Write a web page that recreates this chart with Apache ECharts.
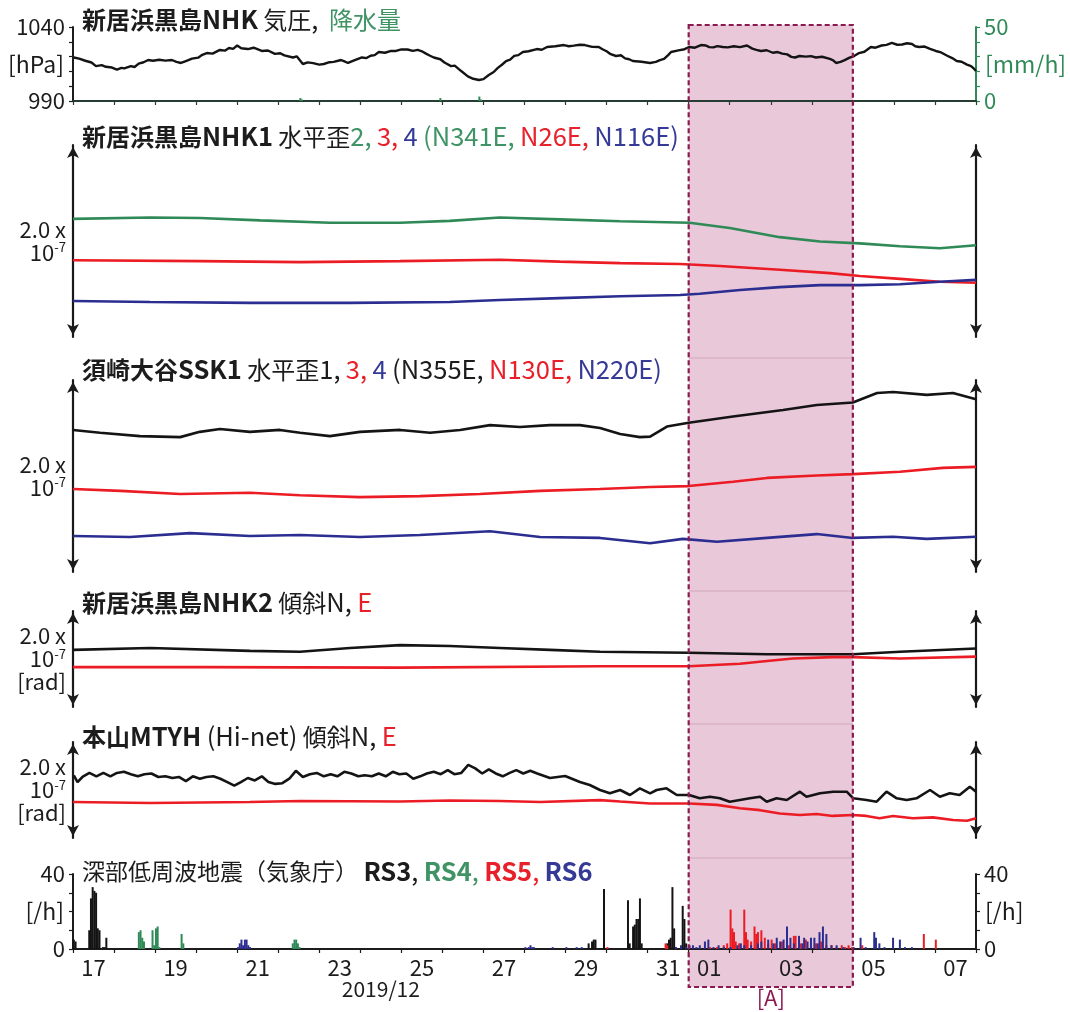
<!DOCTYPE html>
<html>
<head>
<meta charset="utf-8">
<script src="https://cdn.jsdelivr.net/npm/echarts@6/dist/echarts.min.js"></script>
<style>
  html, body { margin: 0; padding: 0; background: #fff; }
  #chart { width: 1070px; height: 1012px; }
</style>
</head>
<body>
<div id="chart"></div>
<script>
// ---- time axis: days counted from 2019-12-17 00:00 (0 .. 22) ----
const dayLabels = ['17','','19','','21','','23','','25','','27','','29','','31','01','','03','','05','','07'];
const monthLabel = '2019/12';
const eventSpan = [15, 19];          // period [A]: 2020-01-01 .. 2020-01-05
const eventLabel = '[A]';

// ---- 新居浜黒島NHK 気圧 [hPa] ----
const pressure = [[0.02,1019.4],[0.15,1018.6],[0.3,1017.2],[0.45,1016.0],[0.56,1013.6],[0.7,1014.2],[0.8,1013.1],[0.95,1012.6],[1.07,1011.2],[1.18,1012.4],[1.25,1012.0],[1.41,1013.6],[1.5,1013.0],[1.6,1015.3],[1.72,1016.2],[1.83,1017.7],[1.95,1017.2],[2.1,1017.9],[2.25,1017.3],[2.41,1017.7],[2.52,1016.4],[2.63,1015.7],[2.75,1017.0],[2.9,1018.6],[3.05,1019.3],[3.15,1021.2],[3.26,1022.4],[3.4,1022.0],[3.58,1024.5],[3.7,1024.0],[3.8,1025.8],[3.9,1025.2],[4.0,1027.5],[4.1,1025.6],[4.26,1025.1],[4.4,1026.0],[4.6,1023.8],[4.75,1024.1],[4.92,1021.8],[5.05,1022.3],[5.15,1020.8],[5.36,1019.4],[5.45,1020.2],[5.6,1015.0],[5.72,1016.1],[5.85,1015.6],[6.0,1014.6],[6.11,1015.0],[6.25,1016.2],[6.35,1016.4],[6.53,1017.7],[6.6,1017.0],[6.7,1015.7],[6.85,1017.4],[7.04,1019.4],[7.15,1019.0],[7.25,1020.6],[7.35,1021.0],[7.45,1023.1],[7.6,1022.6],[7.75,1023.9],[7.87,1023.8],[8.0,1024.9],[8.15,1024.8],[8.28,1023.9],[8.4,1024.5],[8.5,1023.6],[8.6,1022.0],[8.7,1020.6],[8.79,1019.4],[8.95,1018.2],[9.05,1016.0],[9.21,1013.6],[9.3,1013.9],[9.45,1010.4],[9.62,1006.6],[9.75,1005.0],[9.89,1004.2],[10.0,1004.8],[10.13,1007.6],[10.25,1009.6],[10.35,1012.4],[10.45,1014.5],[10.55,1017.0],[10.65,1018.0],[10.75,1020.5],[10.85,1021.0],[10.96,1023.1],[11.1,1023.6],[11.3,1025.1],[11.42,1024.6],[11.55,1026.5],[11.75,1027.0],[11.96,1027.8],[12.08,1027.0],[12.2,1027.4],[12.35,1028.0],[12.47,1027.8],[12.65,1026.6],[12.81,1026.5],[12.9,1025.0],[13.0,1023.6],[13.1,1021.6],[13.23,1020.4],[13.35,1020.9],[13.45,1018.8],[13.55,1018.2],[13.64,1017.0],[13.85,1016.5],[14.06,1015.7],[14.2,1016.4],[14.3,1017.6],[14.4,1018.4],[14.5,1021.0],[14.57,1023.1],[14.75,1024.2],[14.9,1025.0],[15.01,1026.5],[15.15,1026.0],[15.3,1027.8],[15.42,1027.5],[15.5,1026.4],[15.6,1026.2],[15.7,1027.1],[15.83,1026.5],[15.95,1026.2],[16.1,1027.0],[16.25,1026.4],[16.42,1027.5],[16.55,1025.4],[16.65,1024.6],[16.76,1023.8],[16.9,1024.3],[17.05,1022.6],[17.17,1023.1],[17.28,1022.0],[17.4,1021.5],[17.5,1019.8],[17.59,1019.4],[17.7,1020.4],[17.85,1020.0],[17.98,1020.3],[18.1,1019.4],[18.25,1019.9],[18.44,1018.4],[18.52,1017.5],[18.59,1015.7],[18.7,1016.4],[18.8,1017.6],[18.92,1019.3],[19.03,1020.4],[19.15,1022.4],[19.28,1023.3],[19.44,1026.5],[19.55,1026.0],[19.7,1027.5],[19.82,1027.9],[19.95,1029.2],[20.08,1028.0],[20.2,1028.2],[20.32,1029.0],[20.44,1028.5],[20.52,1027.0],[20.61,1026.5],[20.75,1026.8],[20.88,1025.2],[21.02,1023.8],[21.15,1022.8],[21.3,1020.6],[21.42,1019.0],[21.53,1017.0],[21.65,1016.5],[21.78,1014.6],[21.88,1013.6],[21.95,1011.8],[22.0,1010.3]];
// ---- 降水量 [mm/h] ----
const rainfall = [[5.54,2],[5.58,1],[8.95,2],[9.9,3],[9.94,1]];

// ---- 新居浜黒島NHK1 水平歪 (units of 1e-7, relative) ----
const nhk1Ch2 = [[0,2.46],[1.88,2.49],[3.09,2.48],[4.56,2.43],[6.26,2.38],[7.97,2.38],[9.18,2.42],[10.4,2.49],[11.86,2.45],[13.33,2.41],[15.02,2.38],[16.0,2.27],[17.22,2.08],[18.2,1.99],[19.17,1.95],[20.15,1.89],[21.12,1.85],[22.0,1.91]];
const nhk1Ch3 = [[0,1.60],[3.09,1.58],[5.53,1.56],[7.97,1.58],[10.4,1.61],[11.86,1.57],[13.33,1.54],[14.79,1.52],[15.76,1.48],[17.22,1.40],[18.44,1.33],[19.17,1.27],[20.15,1.21],[21.12,1.15],[22.0,1.13]];
const nhk1Ch4 = [[0,0.75],[1.88,0.73],[4.31,0.71],[6.75,0.71],[9.18,0.73],[10.4,0.77],[11.86,0.81],[13.33,0.85],[14.79,0.875],[15.27,0.90],[16.25,0.98],[17.22,1.04],[18.2,1.08],[19.17,1.08],[20.15,1.10],[21.12,1.15],[22.0,1.19]];

// ---- 須崎大谷SSK1 水平歪 (units of 1e-7, relative) ----
const ssk1Ch1 = [[0,2.96],[0.66,2.90],[1.63,2.83],[2.61,2.81],[3.09,2.92],[3.58,2.98],[4.31,2.92],[5.04,2.96],[5.53,2.90],[6.26,2.83],[6.99,2.92],[7.97,2.96],[8.7,2.90],[9.43,2.96],[10.16,3.06],[10.89,3.02],[11.62,3.06],[12.35,3.06],[12.84,3.0],[13.33,2.875],[13.81,2.81],[14.06,2.82],[14.47,3.03],[15.0,3.11],[16.08,3.24],[17.3,3.375],[18.12,3.48],[19.0,3.53],[19.59,3.73],[19.98,3.75],[20.8,3.69],[21.44,3.73],[22.0,3.60]];
const ssk1Ch3 = [[0,1.73],[1.15,1.69],[2.61,1.625],[4.31,1.65],[5.53,1.60],[6.99,1.56],[8.45,1.58],[9.91,1.625],[11.38,1.69],[12.84,1.73],[14.06,1.77],[15.0,1.79],[16.08,1.88],[16.91,1.96],[18.12,2.01],[19.0,2.04],[20.15,2.09],[21.19,2.17],[22.0,2.19]];
const ssk1Ch4 = [[0,0.75],[1.39,0.73],[2.85,0.81],[4.31,0.75],[5.53,0.77],[6.99,0.73],[8.45,0.77],[10.16,0.85],[11.38,0.73],[12.84,0.71],[14.06,0.60],[14.86,0.69],[15.69,0.63],[16.91,0.71],[18.12,0.79],[19.0,0.71],[19.98,0.735],[20.8,0.69],[22.0,0.735]];

// ---- 新居浜黒島NHK2 傾斜 (units of 1e-7 rad, relative) ----
const nhk2N = [[0,1.19],[1.88,1.23],[4.31,1.17],[5.53,1.15],[6.75,1.23],[7.97,1.29],[9.18,1.27],[10.4,1.23],[11.62,1.19],[12.84,1.15],[15.0,1.13],[16.91,1.10],[19.0,1.10],[20.15,1.15],[22.0,1.22]];
const nhk2E = [[0,0.83],[3.09,0.83],[7.97,0.82],[12.84,0.85],[15.0,0.85],[16.25,0.90],[16.91,0.96],[17.54,1.01],[18.51,1.04],[19.0,1.04],[20.15,1.01],[22.0,1.05]];

// ---- 本山MTYH (Hi-net) 傾斜 (units of 1e-7 rad, relative) ----
const mtyhN = [[0.02,1.306],[0.11,1.165],[0.23,1.271],[0.40,1.356],[0.57,1.285],[0.74,1.356],[0.91,1.285],[1.07,1.356],[1.24,1.379],[1.41,1.329],[1.58,1.285],[1.74,1.329],[1.91,1.344],[2.08,1.271],[2.25,1.285],[2.42,1.25],[2.58,1.271],[2.75,1.185],[2.92,1.285],[3.09,1.235],[3.25,1.271],[3.42,1.285],[3.59,1.235],[3.76,1.165],[3.93,1.092],[4.09,1.165],[4.26,1.25],[4.43,1.2],[4.60,1.285],[4.76,1.165],[4.93,1.127],[5.10,1.142],[5.27,1.235],[5.43,1.4],[5.60,1.271],[5.77,1.329],[5.94,1.356],[6.11,1.285],[6.28,1.329],[6.44,1.285],[6.61,1.379],[6.78,1.344],[6.95,1.285],[7.11,1.306],[7.28,1.285],[7.45,1.344],[7.62,1.285],[7.79,1.379],[7.95,1.329],[8.12,1.344],[8.29,1.235],[8.46,1.285],[8.62,1.344],[8.79,1.379],[8.96,1.329],[9.13,1.415],[9.29,1.329],[9.46,1.356],[9.63,1.523],[9.80,1.45],[9.97,1.344],[10.13,1.429],[10.30,1.344],[10.47,1.285],[10.64,1.356],[10.80,1.415],[10.97,1.344],[11.14,1.4],[11.31,1.344],[11.62,1.25],[11.99,1.29],[12.35,1.167],[12.59,1.104],[12.84,1.0],[13.08,0.931],[13.33,1.0],[13.57,0.896],[13.81,1.035],[14.06,0.931],[14.22,1.0],[14.46,1.035],[14.71,0.896],[15.01,0.896],[15.27,0.827],[15.52,0.86],[15.76,0.827],[16.0,0.756],[16.25,0.792],[16.49,0.827],[16.74,0.86],[16.9,0.756],[17.14,0.827],[17.39,0.792],[17.71,0.965],[17.87,0.86],[18.2,0.931],[18.52,0.965],[18.85,0.965],[19.01,0.827],[19.33,0.792],[19.58,0.756],[19.82,0.965],[20.07,0.827],[20.31,0.792],[20.55,0.827],[20.88,1.0],[21.12,0.86],[21.36,0.931],[21.6,0.896],[21.85,1.069],[22.0,0.965]];
const mtyhE = [[0,0.75],[1.88,0.73],[4.31,0.75],[5.53,0.77],[7.97,0.76],[9.18,0.78],[10.4,0.77],[11.38,0.75],[12.84,0.79],[13.33,0.76],[14.06,0.72],[15.01,0.72],[15.69,0.69],[16.25,0.62],[16.74,0.58],[17.22,0.51],[17.71,0.48],[18.12,0.50],[18.51,0.46],[19.0,0.48],[19.33,0.46],[19.65,0.41],[19.98,0.46],[20.46,0.41],[20.95,0.43],[21.44,0.375],[21.78,0.36],[22.0,0.41]];

// ---- 深部低周波地震 (気象庁): [hour since 12-17 00:00, events per hour] ----
const lfeRS3 = [[0,5],[1,4],[9,10],[10,27],[11,33],[12,31],[13,30],[14,11],[15,10],[17,1],[18,1],[19,6],[301,3],[303,4],[304,5],[305,5],[310,32],[324,26],[325,3],[327,12],[328,13],[329,16],[330,16],[331,27],[332,3],[347,3],[348,5],[349,6],[350,33],[351,11],[352,1],[356,23],[357,16],[358,3]];
const lfeRS4 = [[38,9],[39,10],[40,6],[41,4],[46,10],[47,2],[48,11],[49,12],[50,1],[63,8],[64,3],[128,3],[129,5],[130,5],[131,3],[132,1]];
const lfeRS5 = [[312,1],[346,3],[347,2],[362,1],[372,1],[376,1],[380,2],[382,3],[384,21],[385,11],[386,9],[387,4],[389,3],[392,21],[393,9],[394,5],[396,4],[398,12],[399,8],[400,9],[402,10],[404,6],[406,3],[408,5],[410,3],[414,4],[418,2],[421,7],[422,7],[425,3],[428,5],[431,2],[434,3],[437,4],[440,2],[443,2],[446,1],[449,2],[451,1],[453,2],[455,1],[461,2],[497,8],[504,5]];
const lfeRS6 = [[96,1],[97,3],[98,5],[99,2],[100,5],[101,5],[102,2],[103,1],[264,1],[266,1],[267,2],[268,1],[269,1],[280,1],[288,1],[294,1],[297,1],[352,1],[355,2],[358,1],[360,2],[362,2],[364,1],[366,2],[369,4],[371,5],[374,1],[377,2],[380,1],[384,1],[388,2],[390,3],[392,2],[396,2],[400,3],[402,4],[406,5],[409,3],[411,6],[413,4],[415,5],[417,12],[419,6],[421,3],[424,7],[426,3],[427,6],[429,4],[431,6],[433,6],[435,3],[436,9],[438,12],[440,8],[443,2],[446,2],[450,1],[456,1],[460,6],[463,1],[468,9],[469,6],[471,3],[474,1],[479,6],[483,5],[486,1],[490,1]];

// ---------------------------------------------------------------
const FONT = '"Noto Sans CJK JP", "Noto Sans", sans-serif';
const FS_J = 24;        // kanji in panel titles
const FS_L = 25.5;      // latin in panel titles
const AFS = 22;         // axis labels
const INK = '#1c1c1c';
const GREEN = '#2f8a57', RED = '#ec1c24', BLUE = '#2b2e90';
const GREEN_T = '#3f9364', RED_T = '#e8202a', BLUE_T = '#353a97';
const SHADE = '#e8c8d9', SHADE_EDGE = '#8c1a52';

const toDays = arr => arr.map(([h, v]) => [h / 24 + 1 / 48, v]);

// panel layout (pixels)
const LEFT = 73, RIGHT = 94;
const panels = [
  { top: 27,  height: 74 },
  { top: 145, height: 192 },
  { top: 380, height: 192 },
  { top: 611, height: 96 },
  { top: 742, height: 96 },
  { top: 874, height: 75 }
];
const titleCenters = [20, 137, 370, 603, 737, 872];

function tok(color, bold, size) {
  return { fontFamily: FONT, fontSize: size, color: color, fontWeight: bold ? 'bold' : 'normal' };
}
const rich = {
  b:  tok(INK, true, FS_J),   n:  tok(INK, false, FS_J),   g:  tok(GREEN_T, false, FS_J),
  m:  tok(INK, false, 23),
  bl: tok(INK, true, FS_L),   nl: tok(INK, false, FS_L),
  gl: tok(GREEN_T, false, FS_L), rl: tok(RED_T, false, FS_L), ul: tok(BLUE_T, false, FS_L),
  kb: tok(INK, true, FS_L), gb: tok(GREEN_T, true, FS_L), rb: tok(RED_T, true, FS_L), ub: tok(BLUE_T, true, FS_L)
};
const titleTexts = [
  '{b|新居浜黒島}{bl|NHK} {n|気圧}{nl|,}  {g|降水量}',
  '{b|新居浜黒島}{bl|NHK1} {n|水平歪}{gl|2,} {rl|3,} {ul|4} {gl|(N341E,} {rl|N26E,} {ul|N116E)}',
  '{b|須崎大谷}{bl|SSK1} {n|水平歪}{nl|1,} {rl|3,} {ul|4} {nl|(N355E,} {rl|N130E,} {ul|N220E)}',
  '{b|新居浜黒島}{bl|NHK2} {n|傾斜}{nl|N,} {rl|E}',
  '{b|本山}{bl|MTYH} {nl|(Hi-net)} {n|傾斜}{nl|N,} {rl|E}',
  '{m|深部低周波地震（気象庁）} {kb|RS3}{nl|,} {gb|RS4}{gl|,} {rb|RS5}{rl|,} {ub|RS6}'
];

const scaleRich = {
  a: { fontFamily: FONT, fontSize: 22, color: INK, lineHeight: 23, align: 'right' },
  s: { fontFamily: FONT, fontSize: 13, color: INK, lineHeight: 23, verticalAlign: 'top', align: 'right' }
};
const strainName = '{a|2.0 x}\n{a|10}{s|-7}';
const tiltName = '{a|2.0 x}\n{a|10}{s|-7}\n{a|[rad]}';

function arrowAxis(grid, pos, max, name) {
  const ax = {
    type: 'value', gridIndex: grid, position: pos, min: 0, max: max,
    axisLine: { show: true, symbol: ['arrow', 'arrow'], symbolSize: [9, 11], symbolOffset: [2, -2],
                lineStyle: { color: '#1a1a1a', width: 2.2 } },
    axisTick: { show: false }, axisLabel: { show: false }, splitLine: { show: false }
  };
  if (name) {
    ax.name = name; ax.nameLocation = 'middle'; ax.nameRotate = 0; ax.nameGap = 7;
    ax.nameMoveOverlap = false;
    ax.nameTextStyle = { rich: scaleRich, align: 'right', verticalAlign: 'middle' };
  }
  return ax;
}

function scaleAxis(grid, pos, min, max, color, name) {
  return {
    type: 'value', gridIndex: grid, position: pos, min: min, max: max, interval: 10,
    axisLine: { show: true, lineStyle: { color: color, width: 2 } },
    axisTick: { show: true, length: 4, lineStyle: { color: color, width: 1.2 } },
    axisLabel: { show: true, margin: 8, fontFamily: FONT, fontSize: AFS, color: color,
                 formatter: v => (v === max || v === min) ? String(v) : '' },
    splitLine: { show: false },
    name: name, nameLocation: 'middle', nameRotate: 0, nameGap: 9, nameMoveOverlap: false,
    nameTextStyle: { fontFamily: FONT, fontSize: 23, color: color,
                     align: pos === 'left' ? 'right' : 'left', verticalAlign: 'middle' }
  };
}

const xAxes = panels.map((p, i) => ({
  type: 'value', gridIndex: i, min: 0, max: 22, interval: 1,
  show: i === 0,
  axisLine: { show: i === 0, onZero: false, lineStyle: { color: '#263d33', width: 2 } },
  axisTick: { show: i === 0, length: 4, lineStyle: { color: '#263d33', width: 1.2 } },
  axisLabel: { show: false }, splitLine: { show: false }
}));
xAxes.push({
  type: 'category', gridIndex: 5, position: 'bottom', data: dayLabels, boundaryGap: true,
  axisLine: { show: true, onZero: false, lineStyle: { color: INK, width: 2 } },
  axisTick: { show: true, interval: 0, length: 4, lineStyle: { color: INK, width: 1.2 } },
  axisLabel: { interval: 0, margin: 8, fontFamily: FONT, fontSize: AFS, color: INK },
  splitLine: { show: false }
});

const yAxes = [
  scaleAxis(0, 'left', 990, 1040, INK, '[hPa]'),
  scaleAxis(0, 'right', 0, 50, GREEN, '[mm/h]'),
  arrowAxis(1, 'left', 4, strainName), arrowAxis(1, 'right', 4),
  arrowAxis(2, 'left', 4, strainName), arrowAxis(2, 'right', 4),
  arrowAxis(3, 'left', 2, tiltName),   arrowAxis(3, 'right', 2),
  arrowAxis(4, 'left', 2, tiltName),   arrowAxis(4, 'right', 2),
  scaleAxis(5, 'left', 0, 40, INK, '[/h]'),
  scaleAxis(5, 'right', 0, 40, INK, '[/h]')
];

function line(data, x, y, color, width) {
  return { type: 'line', data: data, xAxisIndex: x, yAxisIndex: y, showSymbol: false, silent: true,
           smooth: false, lineStyle: { color: color, width: width || 2.6 }, z: 3 };
}
function bars(data, x, y, color) {
  return { type: 'bar', data: data, xAxisIndex: x, yAxisIndex: y, barWidth: 2, barGap: '-100%',
           silent: true, itemStyle: { color: color }, z: 3 };
}

const option = {
  animation: false,
  backgroundColor: '#ffffff',
  textStyle: { fontFamily: FONT },
  title: titleTexts.map((t, i) => ({
    text: t, left: 82, top: titleCenters[i] - 13, padding: 0,
    textStyle: { rich: rich, fontFamily: FONT, fontSize: FS_J, fontWeight: 'normal', color: INK }
  })),
  grid: panels.map(p => ({ left: LEFT, right: RIGHT, top: p.top, height: p.height,
                           containLabel: false, outerBoundsMode: 'none' })),
  xAxis: xAxes,
  yAxis: yAxes,
  series: [
    bars(rainfall, 0, 1, GREEN),
    line(pressure, 0, 0, '#141414', 2.4),
    line(nhk1Ch2, 1, 2, GREEN), line(nhk1Ch3, 1, 2, RED), line(nhk1Ch4, 1, 2, BLUE),
    line(ssk1Ch1, 2, 4, '#141414'), line(ssk1Ch3, 2, 4, RED), line(ssk1Ch4, 2, 4, BLUE),
    line(nhk2N, 3, 6, '#141414'), line(nhk2E, 3, 6, RED),
    line(mtyhN, 4, 8, '#141414'), line(mtyhE, 4, 8, RED),
    bars(toDays(lfeRS3), 5, 10, '#141414'),
    bars(toDays(lfeRS4), 5, 10, GREEN),
    bars(toDays(lfeRS5), 5, 10, RED),
    bars(toDays(lfeRS6), 5, 10, BLUE)
  ]
};

const chart = echarts.init(document.getElementById('chart'), null, { renderer: 'canvas' });
chart.setOption(option);

// period [A] band spanning all panels, plus the month caption
const xa = chart.convertToPixel({ xAxisIndex: 5 }, eventSpan[0]);
const xb = chart.convertToPixel({ xAxisIndex: 5 }, eventSpan[1]);
const xm = chart.convertToPixel({ xAxisIndex: 5 }, 7.5);
const bandTop = 25, bandBottom = 987;
const joins = [358, 591, 724, 858];
const graphic = [
  { type: 'rect', z: -10, silent: true,
    shape: { x: xa, y: bandTop, width: xb - xa, height: bandBottom - bandTop },
    style: { fill: SHADE } },
  ...joins.map(y => ({ type: 'line', z: -9, silent: true,
    shape: { x1: xa, y1: y, x2: xb, y2: y },
    style: { stroke: 'rgba(160,110,135,0.35)', lineWidth: 1 } })),
  { type: 'rect', z: 50, silent: true,
    shape: { x: xa, y: bandTop, width: xb - xa, height: bandBottom - bandTop },
    style: { fill: null, stroke: SHADE_EDGE, lineWidth: 2.2, lineDash: [5, 3] } },
  { type: 'text', z: 50, silent: true, x: (xa + xb) / 2, y: 998,
    style: { text: eventLabel, fill: SHADE_EDGE, font: '22px ' + FONT, textAlign: 'center', textVerticalAlign: 'middle' } },
  { type: 'text', z: 50, silent: true, x: xm, y: 989,
    style: { text: monthLabel, fill: INK, font: '21px ' + FONT, textAlign: 'center', textVerticalAlign: 'middle' } }
];
chart.setOption({ graphic: graphic });
</script>
</body>
</html>
